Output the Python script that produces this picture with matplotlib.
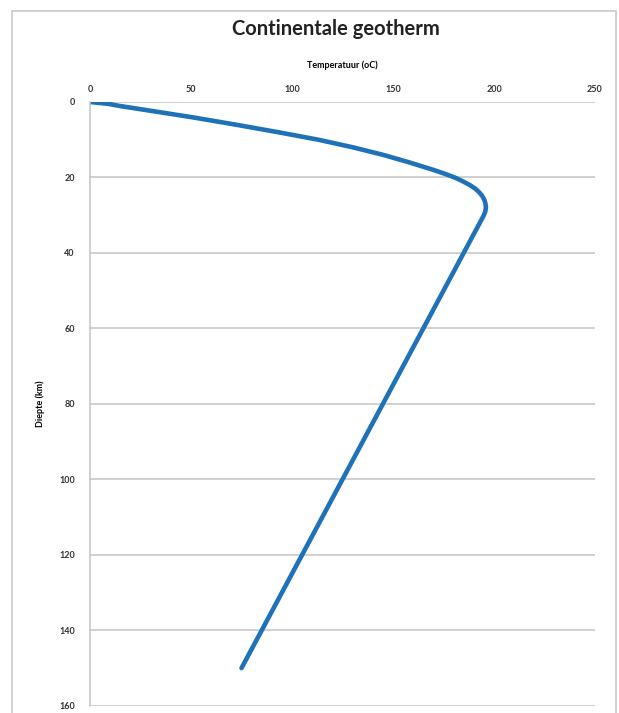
import numpy as np
import matplotlib.pyplot as plt
from matplotlib.patches import Rectangle

# diepte (km) en temperatuur (oC)
diepte = [0, 0.5, 1, 2, 4, 6, 8, 10, 12, 14, 16, 17, 18, 19, 20, 21, 22, 23, 24, 25,
          26, 27, 28, 29, 30, 31, 32, 35, 40, 60, 80, 100, 120, 150]
temperatuur = [0, 9, 14, 26, 50, 72, 93, 113, 130, 145, 158, 164, 170, 175.5, 180.5, 184.5,
               188, 190.8, 192.8, 194.3, 195.3, 195.8, 196, 195.7, 195, 194, 193, 190, 185,
               165, 145, 125, 105, 75]

x_ticks = [0, 50, 100, 150, 200, 250]
y_ticks = [0, 20, 40, 60, 80, 100, 120, 140, 160]

plt.rcParams['font.family'] = ['Lato', 'DejaVu Sans']

fig = plt.figure(figsize=(6.19, 7.13), dpi=100)
ax = fig.add_axes([0.1454, 0.01, 0.8158, 0.847])

# kader rond de grafiek
fig.patches.append(Rectangle((12 / 619, -0.01), 604 / 619, 1 - 11 / 713 + 0.01,
                             transform=fig.transFigure, fill=False,
                             edgecolor='#c8c8c8', linewidth=1.2))

ax.plot(temperatuur, diepte, color='#1f72b8', linewidth=3.3,
        solid_capstyle='round', solid_joinstyle='round')

ax.set_xlim(0, 250)
ax.set_ylim(160, 0)
ax.set_xticks(x_ticks)
ax.set_yticks(y_ticks)
ax.xaxis.tick_top()
ax.xaxis.set_label_position('top')

ax.grid(axis='y', color='#c4c4c4', linewidth=1.1)
ax.set_axisbelow(True)
for side in ['top', 'right', 'bottom']:
    ax.spines[side].set_visible(False)
ax.spines['left'].set_color('#c4c4c4')
ax.spines['left'].set_linewidth(1.1)
ax.tick_params(length=0, labelsize=6.5, colors='#333333')
ax.tick_params(axis='x', pad=6)
ax.tick_params(axis='y', pad=11)
for lab in ax.get_xticklabels() + ax.get_yticklabels():
    lab.set_fontweight('bold')

ax.set_xlabel('Temperatuur (oC)', fontsize=6.5, fontweight='bold', labelpad=12)
ax.set_ylabel('Diepte (km)', fontsize=6.5, fontweight='bold', labelpad=10)
fig.text(0.543, 0.96, 'Continentale geotherm', ha='center', va='center',
         fontsize=14.5, fontweight='bold', color='#222222')

fig.savefig('out.png', dpi=100)
